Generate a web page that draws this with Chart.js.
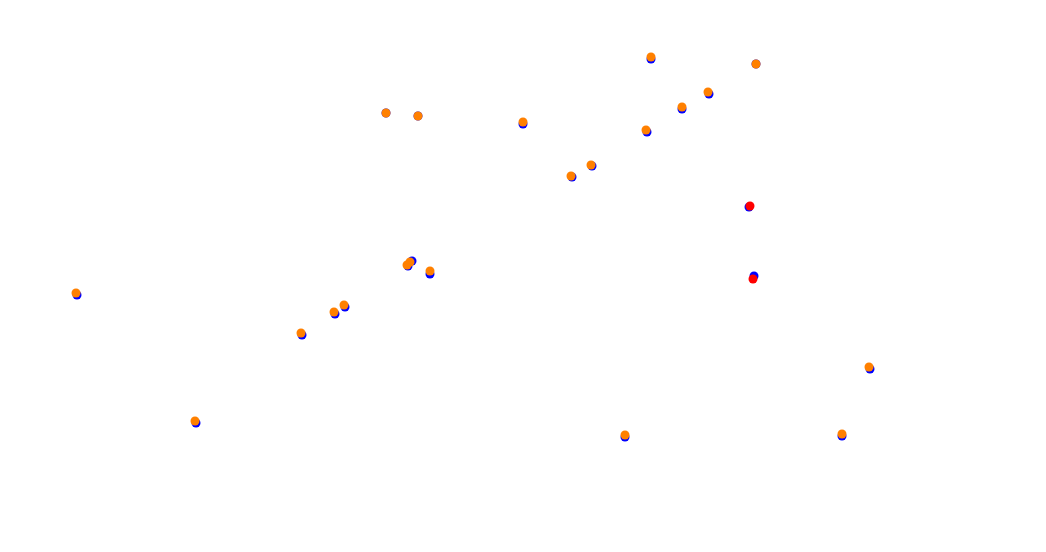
<!DOCTYPE html>
<html>
<head>
<meta charset="utf-8">
<script src="https://cdn.jsdelivr.net/npm/chart.js@4/dist/chart.umd.min.js"></script>
<style>
html,body{margin:0;padding:0;background:#fff;}
#wrap{width:1046px;height:552px;}
</style>
</head>
<body>
<div id="wrap"><canvas id="c" width="1046" height="552"></canvas></div>
<script>
// Series values (x, y)
const orangeX = [76, 195, 301, 334, 344, 386, 418, 407, 410, 430, 523, 571, 591, 625, 646, 651, 682, 708, 756, 842, 869];
const orangeY = [293, 421, 333, 312, 305, 113, 116, 265, 262, 271, 122, 176, 165, 435, 130, 57, 107, 92, 64, 434, 367];
const blueX = [77, 196, 302, 335, 345, 386, 418, 408, 412, 430, 523, 572, 592, 625, 647, 651, 682, 709, 756, 842, 870, 749, 754];
const blueY = [295, 423, 335, 314, 307, 113, 116, 266, 261, 274, 124, 177, 166, 437, 132, 59, 109, 94, 64, 436, 369, 207, 276];
const redX = [750, 753];
const redY = [206, 279];

const xRange = [0, 1046];
const yRange = [0, 552];

function pts(xs, ys){ return xs.map((x,i)=>({x:x, y:ys[i]})); }

new Chart(document.getElementById('c'), {
  type: 'scatter',
  data: {
    datasets: [
      {label:'red', data: pts(redX, redY), backgroundColor:'#ff0000', borderWidth:0, pointRadius:4.5, order:0},
      {label:'orange', data: pts(orangeX, orangeY), backgroundColor:'#ff8000', borderWidth:0, pointRadius:4.5, order:1},
      {label:'blue', data: pts(blueX, blueY), backgroundColor:'#0000ff', borderWidth:0, pointRadius:4.5, order:2}
    ]
  },
  options: {
    responsive:false,
    animation:false,
    layout:{padding:0, autoPadding:false},
    plugins:{legend:{display:false}, tooltip:{enabled:false}},
    scales:{
      x:{type:'linear', display:false, min:xRange[0], max:xRange[1]},
      y:{type:'linear', display:false, min:yRange[0], max:yRange[1], reverse:true}
    }
  }
});
</script>
</body>
</html>
